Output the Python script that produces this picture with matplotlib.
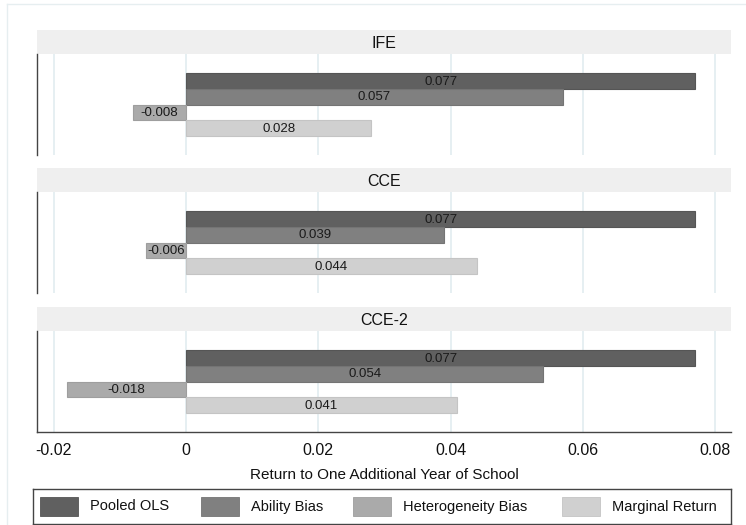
import matplotlib
matplotlib.use("Agg")
import matplotlib.pyplot as plt
from matplotlib.patches import Rectangle
from matplotlib.lines import Line2D

plt.rcParams['font.family'] = ['Liberation Sans', 'DejaVu Sans']

# Estimates by model
panels = ["IFE", "CCE", "CCE-2"]
series_names = ["Pooled OLS", "Ability Bias", "Heterogeneity Bias", "Marginal Return"]
pooled_ols = [0.077, 0.077, 0.077]
ability_bias = [0.057, 0.039, 0.054]
heterogeneity_bias = [-0.008, -0.006, -0.018]
marginal_return = [0.028, 0.044, 0.041]
x_ticks = [-0.02, 0, 0.02, 0.04, 0.06, 0.08]
x_tick_labels = ["-0.02", "0", "0.02", "0.04", "0.06", "0.08"]

series = [pooled_ols, ability_bias, heterogeneity_bias, marginal_return]
colors = ["#606060", "#808080", "#aaaaaa", "#d0d0d0"]
edges = ["#555555", "#747474", "#9e9e9e", "#c4c4c4"]

W, H = 746, 525
fig = plt.figure(figsize=(W / 100, H / 100), dpi=100)
fig.patch.set_facecolor("white")


def px_axes(x0, y0, x1, y1, **kw):
    return fig.add_axes([x0 / W, 1 - y1 / H, (x1 - x0) / W, (y1 - y0) / H], **kw)


# faint outer frame
fig.add_artist(Line2D([7 / W, 7 / W], [0, 1 - 4 / H], color="#e6eef0", lw=1))
fig.add_artist(Line2D([7 / W, 1], [1 - 4 / H, 1 - 4 / H], color="#e6eef0", lw=1))

x_left, x_right = 37, 731
xlim = (-0.022524, 0.08239)
panel_tops = [30, 168, 307]
strip_h = 24
plot_h = 101

for i, name in enumerate(panels):
    top = panel_tops[i]
    # strip header
    sax = px_axes(x_left, top, x_right, top + strip_h)
    sax.set_facecolor("#efefef")
    sax.set_xticks([]); sax.set_yticks([])
    for s in sax.spines.values():
        s.set_visible(False)
    sax.text(0.5, 0.45, name, ha="center", va="center", fontsize=11.5, color="#111111",
             transform=sax.transAxes)

    ax = px_axes(x_left, top + strip_h, x_right, top + strip_h + plot_h)
    ax.set_xlim(*xlim)
    ax.set_ylim(4.706, -1.706)
    for x in x_ticks:
        ax.axvline(x, color="#e4eef1", lw=1.3, zorder=0)
    for j, vals in enumerate(series):
        v = vals[i]
        ax.barh(j, v, height=1.0, color=colors[j], edgecolor=edges[j], linewidth=0.8, zorder=2)
        ax.text(v / 2, j + 0.04, f"{v:.3f}", ha="center", va="center", fontsize=9.5,
                color="#1a1a1a", zorder=3)
    ax.set_yticks([])
    for s in ["top", "right"]:
        ax.spines[s].set_visible(False)
    ax.spines["left"].set_color("#444444")
    ax.spines["left"].set_linewidth(1.0)
    if i < len(panels) - 1:
        ax.spines["bottom"].set_visible(False)
        ax.set_xticks([])
    else:
        ax.spines["bottom"].set_color("#444444")
        ax.spines["bottom"].set_linewidth(1.0)
        ax.set_xticks(x_ticks)
        ax.set_xticklabels(x_tick_labels, fontsize=11.5, color="#111111")
        ax.tick_params(axis="x", length=0, pad=8)
        ax.set_xlabel("Return to One Additional Year of School", fontsize=11,
                      color="#111111", labelpad=7)

# legend box
lax = px_axes(33, 489, 731, 524)
lax.set_xlim(33, 731)
lax.set_ylim(524, 489)
lax.set_xticks([]); lax.set_yticks([])
for s in lax.spines.values():
    s.set_color("#444444")
    s.set_linewidth(1.0)
patch_x = [40, 201, 353, 562]
for k, label in enumerate(series_names):
    lax.add_patch(Rectangle((patch_x[k], 497), 38, 19, facecolor=colors[k],
                            edgecolor=edges[k], linewidth=0.6))
    lax.text(patch_x[k] + 50, 506.5, label, ha="left", va="center", fontsize=10.5,
             color="#111111")

fig.savefig("out.png", dpi=100)
